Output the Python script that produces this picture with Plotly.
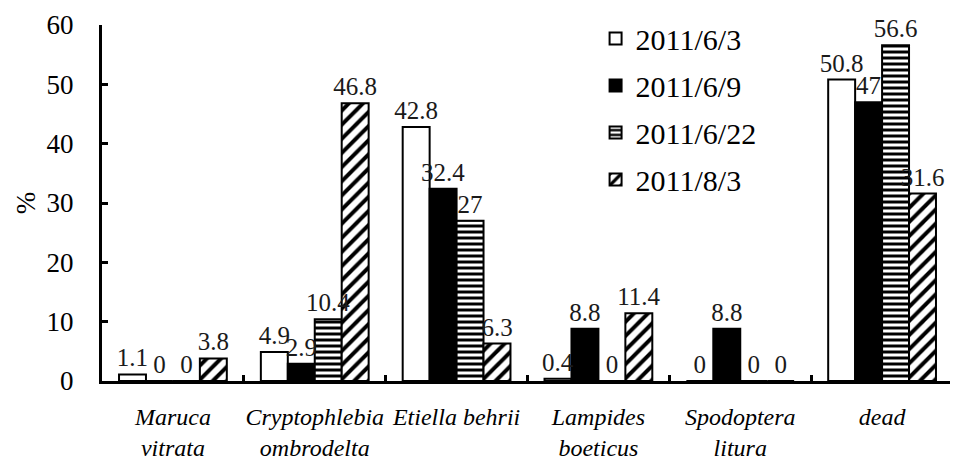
import plotly.graph_objects as go

categories = ["<i>Maruca</i><br><i>vitrata</i>", "<i>Cryptophlebia</i><br><i>ombrodelta</i>",
              "<i>Etiella behrii</i><br> ", "<i>Lampides</i><br><i>boeticus</i>",
              "<i>Spodoptera</i><br><i>litura</i>", "<i>dead</i><br> "]
series_names = ["2011/6/3", "2011/6/9", "2011/6/22", "2011/8/3"]
v_0603 = [1.1, 4.9, 42.8, 0.4, 0, 50.8]
v_0609 = [0, 2.9, 32.4, 8.8, 8.8, 47]
v_0622 = [0, 10.4, 27, 0, 0, 56.6]
v_0803 = [3.8, 46.8, 6.3, 11.4, 0, 31.6]
y_ticks = [0, 10, 20, 30, 40, 50, 60]

FONT = "Times New Roman, Liberation Serif, serif"
styles = [
    dict(color="white", pattern=dict(shape="")),
    dict(color="black", pattern=dict(shape="")),
    dict(color="white", pattern=dict(shape="-", fgcolor="black", bgcolor="white", size=6, solidity=0.5, fillmode="replace")),
    dict(color="white", pattern=dict(shape="/", fgcolor="black", bgcolor="white", size=10, solidity=0.4, fillmode="replace")),
]
all_vals = [v_0603, v_0609, v_0622, v_0803]

fig = go.Figure()
# bars
for i, (name, vals, st) in enumerate(zip(series_names, all_vals, styles)):
    fig.add_trace(go.Bar(
        x=categories, y=vals, name=name, legendgroup=name, offsetgroup=str(i),
        marker=dict(color=st["color"], line=dict(color="black", width=2), pattern=st["pattern"]),
        hoverinfo="skip",
    ))
# value labels drawn on top of all bars
for i, (name, vals) in enumerate(zip(series_names, all_vals)):
    fig.add_trace(go.Bar(
        x=categories, y=vals, name=name, legendgroup=name, offsetgroup=str(i), showlegend=False,
        marker=dict(color="rgba(0,0,0,0)", line=dict(width=0)),
        text=[f"{v:g}" for v in vals], textposition="outside", constraintext="none",
        textfont=dict(family=FONT, size=25, color="#1a1a1a"),
        cliponaxis=False,
    ))

fig.update_layout(
    width=950, height=455,
    margin=dict(l=94, r=5, t=14, b=82),
    plot_bgcolor="white", paper_bgcolor="white",
    barmode="group", bargap=0.24, bargroupgap=0,
    font=dict(family=FONT, color="black"),
    showlegend=True,
    legend=dict(x=0.58, y=1.035, xanchor="left", yanchor="top",
                font=dict(family=FONT, size=30, color="black"),
                bgcolor="rgba(0,0,0,0)", tracegroupgap=5),
    xaxis=dict(type="category", showline=True, linecolor="black", linewidth=3,
               ticks="inside", tickson="boundaries", ticklen=6, tickwidth=3, tickcolor="black",
               tickangle=0, automargin=False, ticklabelstandoff=12,
               tickfont=dict(family=FONT, size=24, color="black"), showgrid=False),
    yaxis=dict(range=[0, 60], tickvals=y_ticks, showline=True, linecolor="black", linewidth=3,
               ticks="inside", ticklen=6, tickwidth=3, tickcolor="black", automargin=False,
               ticklabeloverflow="allow",
               tickfont=dict(family=FONT, size=27, color="black"), ticklabelstandoff=20,
               showgrid=False, zeroline=False,
               title=dict(text="%", font=dict(family=FONT, size=27, color="black"), standoff=4)),
)

fig.write_html("out.html")
